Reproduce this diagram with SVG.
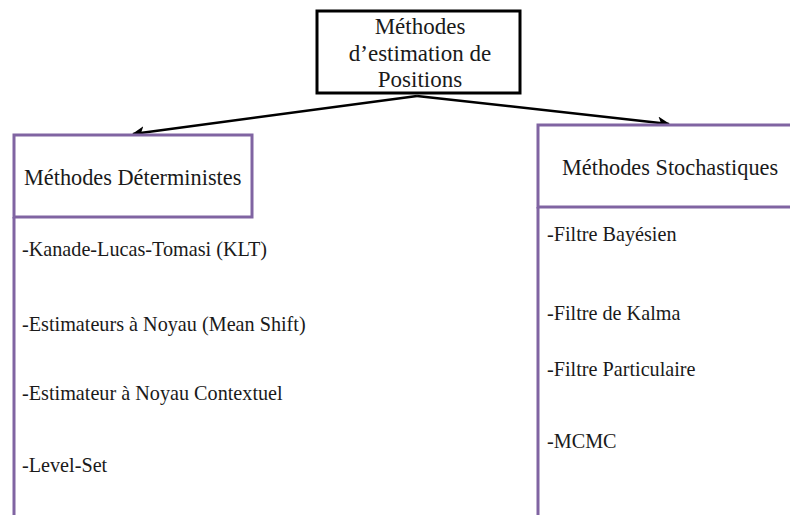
<svg xmlns="http://www.w3.org/2000/svg" width="790" height="515" viewBox="0 0 790 515">
  <style>
    text { font-family: "Liberation Serif", "Times New Roman", Times, "DejaVu Serif", serif; fill: #1a1a1a; }
    .title { font-size: 23px; text-anchor: middle; }
    .head { font-size: 22.3px; }
    .item { font-size: 20.2px; }
    .panel { fill: #ffffff; stroke: #8064a2; stroke-width: 3; }
    .edge { stroke: #000000; stroke-width: 2.5; fill: none; marker-end: url(#arrow); }
  </style>
  <defs>
    <marker id="arrow" viewBox="0 0 10 10" refX="9" refY="5" markerWidth="5" markerHeight="5" orient="auto" markerUnits="strokeWidth">
      <path d="M0,0 L10,5 L0,10 L2.5,5 z" fill="#000000"/>
    </marker>
  </defs>
  <rect width="790" height="515" fill="#ffffff"/>

  <g id="connectors">
    <line class="edge" x1="417" y1="96" x2="133" y2="134"/>
    <line class="edge" x1="417" y1="96" x2="669" y2="124"/>
  </g>

  <g id="root">
    <rect x="317" y="11" width="203" height="82" fill="#ffffff" stroke="#000000" stroke-width="3"/>
    <text class="title" x="420" y="34">Méthodes</text>
    <text class="title" x="420" y="61">d’estimation de</text>
    <text class="title" x="420" y="87">Positions</text>
  </g>

  <g id="deterministes">
    <rect class="panel" x="14" y="135" width="238" height="82"/>
    <line x1="14" y1="217" x2="14" y2="515" stroke="#8064a2" stroke-width="3"/>
    <text class="head" x="24" y="185">Méthodes Déterministes</text>
    <text class="item" x="22" y="256">-Kanade-Lucas-Tomasi (KLT)</text>
    <text class="item" x="22" y="331">-Estimateurs à Noyau (Mean Shift)</text>
    <text class="item" x="22" y="400">-Estimateur à Noyau Contextuel</text>
    <text class="item" x="22" y="472">-Level-Set</text>
  </g>

  <g id="stochastiques">
    <rect class="panel" x="538" y="125" width="260" height="82"/>
    <line x1="538" y1="207" x2="538" y2="515" stroke="#8064a2" stroke-width="3"/>
    <text class="head" x="562" y="175">Méthodes Stochastiques</text>
    <text class="item" x="547" y="241">-Filtre Bayésien</text>
    <text class="item" x="547" y="320">-Filtre de Kalma</text>
    <text class="item" x="547" y="376">-Filtre Particulaire</text>
    <text class="item" x="547" y="448">-MCMC</text>
  </g>
</svg>
